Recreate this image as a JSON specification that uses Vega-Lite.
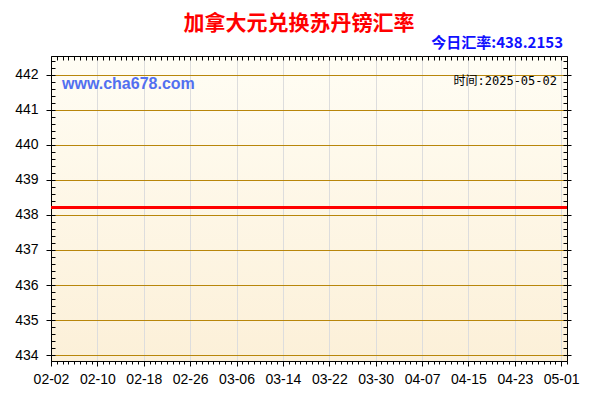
{
  "$schema": "https://vega.github.io/schema/vega-lite/v6.json",
  "description": "加拿大元兑换苏丹镑汇率",
  "width": 516,
  "height": 305,
  "autosize": {"type": "none"},
  "padding": {"left": 51, "top": 56, "right": 33, "bottom": 39},
  "background": "white",
  "title": {
    "text": "加拿大元兑换苏丹镑汇率",
    "color": "#FF0000",
    "font": "Noto Sans CJK SC",
    "fontSize": 21,
    "fontWeight": "bold",
    "anchor": "middle",
    "dx": -10,
    "offset": 2
  },
  "data": {
    "values": [
      {"date": "2025-02-02", "rate": 438.2153}, {"date": "2025-02-03", "rate": 438.2153}, {"date": "2025-02-04", "rate": 438.2153},
      {"date": "2025-02-05", "rate": 438.2153}, {"date": "2025-02-06", "rate": 438.2153}, {"date": "2025-02-07", "rate": 438.2153},
      {"date": "2025-02-08", "rate": 438.2153}, {"date": "2025-02-09", "rate": 438.2153}, {"date": "2025-02-10", "rate": 438.2153},
      {"date": "2025-02-11", "rate": 438.2153}, {"date": "2025-02-12", "rate": 438.2153}, {"date": "2025-02-13", "rate": 438.2153},
      {"date": "2025-02-14", "rate": 438.2153}, {"date": "2025-02-15", "rate": 438.2153}, {"date": "2025-02-16", "rate": 438.2153},
      {"date": "2025-02-17", "rate": 438.2153}, {"date": "2025-02-18", "rate": 438.2153}, {"date": "2025-02-19", "rate": 438.2153},
      {"date": "2025-02-20", "rate": 438.2153}, {"date": "2025-02-21", "rate": 438.2153}, {"date": "2025-02-22", "rate": 438.2153},
      {"date": "2025-02-23", "rate": 438.2153}, {"date": "2025-02-24", "rate": 438.2153}, {"date": "2025-02-25", "rate": 438.2153},
      {"date": "2025-02-26", "rate": 438.2153}, {"date": "2025-02-27", "rate": 438.2153}, {"date": "2025-02-28", "rate": 438.2153},
      {"date": "2025-03-01", "rate": 438.2153}, {"date": "2025-03-02", "rate": 438.2153}, {"date": "2025-03-03", "rate": 438.2153},
      {"date": "2025-03-04", "rate": 438.2153}, {"date": "2025-03-05", "rate": 438.2153}, {"date": "2025-03-06", "rate": 438.2153},
      {"date": "2025-03-07", "rate": 438.2153}, {"date": "2025-03-08", "rate": 438.2153}, {"date": "2025-03-09", "rate": 438.2153},
      {"date": "2025-03-10", "rate": 438.2153}, {"date": "2025-03-11", "rate": 438.2153}, {"date": "2025-03-12", "rate": 438.2153},
      {"date": "2025-03-13", "rate": 438.2153}, {"date": "2025-03-14", "rate": 438.2153}, {"date": "2025-03-15", "rate": 438.2153},
      {"date": "2025-03-16", "rate": 438.2153}, {"date": "2025-03-17", "rate": 438.2153}, {"date": "2025-03-18", "rate": 438.2153},
      {"date": "2025-03-19", "rate": 438.2153}, {"date": "2025-03-20", "rate": 438.2153}, {"date": "2025-03-21", "rate": 438.2153},
      {"date": "2025-03-22", "rate": 438.2153}, {"date": "2025-03-23", "rate": 438.2153}, {"date": "2025-03-24", "rate": 438.2153},
      {"date": "2025-03-25", "rate": 438.2153}, {"date": "2025-03-26", "rate": 438.2153}, {"date": "2025-03-27", "rate": 438.2153},
      {"date": "2025-03-28", "rate": 438.2153}, {"date": "2025-03-29", "rate": 438.2153}, {"date": "2025-03-30", "rate": 438.2153},
      {"date": "2025-03-31", "rate": 438.2153}, {"date": "2025-04-01", "rate": 438.2153}, {"date": "2025-04-02", "rate": 438.2153},
      {"date": "2025-04-03", "rate": 438.2153}, {"date": "2025-04-04", "rate": 438.2153}, {"date": "2025-04-05", "rate": 438.2153},
      {"date": "2025-04-06", "rate": 438.2153}, {"date": "2025-04-07", "rate": 438.2153}, {"date": "2025-04-08", "rate": 438.2153},
      {"date": "2025-04-09", "rate": 438.2153}, {"date": "2025-04-10", "rate": 438.2153}, {"date": "2025-04-11", "rate": 438.2153},
      {"date": "2025-04-12", "rate": 438.2153}, {"date": "2025-04-13", "rate": 438.2153}, {"date": "2025-04-14", "rate": 438.2153},
      {"date": "2025-04-15", "rate": 438.2153}, {"date": "2025-04-16", "rate": 438.2153}, {"date": "2025-04-17", "rate": 438.2153},
      {"date": "2025-04-18", "rate": 438.2153}, {"date": "2025-04-19", "rate": 438.2153}, {"date": "2025-04-20", "rate": 438.2153},
      {"date": "2025-04-21", "rate": 438.2153}, {"date": "2025-04-22", "rate": 438.2153}, {"date": "2025-04-23", "rate": 438.2153},
      {"date": "2025-04-24", "rate": 438.2153}, {"date": "2025-04-25", "rate": 438.2153}, {"date": "2025-04-26", "rate": 438.2153},
      {"date": "2025-04-27", "rate": 438.2153}, {"date": "2025-04-28", "rate": 438.2153}, {"date": "2025-04-29", "rate": 438.2153},
      {"date": "2025-04-30", "rate": 438.2153}, {"date": "2025-05-01", "rate": 438.2153}, {"date": "2025-05-02", "rate": 438.2153}
    ]
  },
  "layer": [
    {
      "mark": {"type": "line", "color": "#FF0000", "strokeWidth": 3},
      "encoding": {
        "x": {
          "field": "date",
          "type": "temporal",
          "scale": {
            "type": "utc",
            "domain": [
              {"year": 2025, "month": 2, "date": 2, "utc": true},
              {"year": 2025, "month": 5, "date": 2, "utc": true}
            ]
          },
          "axis": {
            "orient": "bottom",
            "title": null,
            "format": "%m-%d",
            "values": [
              {"year": 2025, "month": 2, "date": 2, "utc": true},
              {"year": 2025, "month": 2, "date": 10, "utc": true},
              {"year": 2025, "month": 2, "date": 18, "utc": true},
              {"year": 2025, "month": 2, "date": 26, "utc": true},
              {"year": 2025, "month": 3, "date": 6, "utc": true},
              {"year": 2025, "month": 3, "date": 14, "utc": true},
              {"year": 2025, "month": 3, "date": 22, "utc": true},
              {"year": 2025, "month": 3, "date": 30, "utc": true},
              {"year": 2025, "month": 4, "date": 7, "utc": true},
              {"year": 2025, "month": 4, "date": 15, "utc": true},
              {"year": 2025, "month": 4, "date": 23, "utc": true},
              {"year": 2025, "month": 5, "date": 1, "utc": true}
            ],
            "tickSize": 5,
            "labelPadding": 6,
            "labelFlush": false,
            "labelOverlap": false
          }
        },
        "y": {
          "field": "rate",
          "type": "quantitative",
          "scale": {"domain": [433.83, 442.54], "zero": false, "nice": false},
          "axis": {
            "orient": "left",
            "title": null,
            "values": [434, 435, 436, 437, 438, 439, 440, 441, 442],
            "tickSize": 5,
            "labelPadding": 8,
            "grid": true,
            "gridColor": "#B8860B",
            "gridOpacity": 1,
            "labelFlush": false
          }
        }
      }
    },
    {
      "data": {"values": [{}]},
      "mark": {
        "type": "text",
        "text": "www.cha678.com",
        "align": "left",
        "baseline": "middle",
        "dx": 11,
        "font": "Liberation Sans",
        "fontSize": 16,
        "fontWeight": "bold",
        "color": "#5270F0"
      },
      "encoding": {
        "x": {
          "datum": {"year": 2025, "month": 2, "date": 2, "utc": true},
          "type": "temporal",
          "axis": {
            "orient": "bottom",
            "title": null,
            "tickCount": {"interval": "day", "step": 1},
            "labels": false,
            "domain": false,
            "grid": false,
            "tickSize": 3
          }
        },
        "y": {
          "datum": 441.74,
          "type": "quantitative",
          "axis": {
            "orient": "left",
            "title": null,
            "tickCount": 45,
            "labels": false,
            "domain": false,
            "grid": false,
            "tickSize": -4
          }
        }
      }
    },
    {
      "data": {"values": [{}]},
      "mark": {
        "type": "text",
        "text": "时间:2025-05-02",
        "align": "right",
        "baseline": "middle",
        "dx": -10,
        "font": "DejaVu Sans Mono, Noto Sans CJK SC",
        "fontSize": 12,
        "color": "#000000"
      },
      "encoding": {
        "x": {
          "datum": {"year": 2025, "month": 5, "date": 2, "utc": true},
          "type": "temporal",
          "axis": {
            "orient": "top",
            "title": null,
            "tickCount": {"interval": "day", "step": 1},
            "labels": false,
            "domain": false,
            "grid": false,
            "tickSize": -4
          }
        },
        "y": {
          "datum": 441.83,
          "type": "quantitative",
          "axis": {
            "orient": "right",
            "title": null,
            "tickCount": 45,
            "labels": false,
            "domain": false,
            "grid": false,
            "tickSize": -4
          }
        }
      }
    },
    {
      "data": {"values": [{}]},
      "mark": {
        "type": "text",
        "text": "今日汇率:438.2153",
        "align": "right",
        "baseline": "alphabetic",
        "dx": -4,
        "dy": -8,
        "font": "Noto Sans CJK SC",
        "fontSize": 15,
        "fontWeight": "bold",
        "color": "#1010FF"
      },
      "encoding": {
        "x": {
          "datum": {"year": 2025, "month": 5, "date": 2, "utc": true},
          "type": "temporal",
          "axis": null
        },
        "y": {
          "datum": 442.54,
          "type": "quantitative",
          "axis": {
            "orient": "right",
            "title": null,
            "values": [434, 435, 436, 437, 438, 439, 440, 441, 442],
            "labels": false,
            "domain": false,
            "grid": false,
            "tickSize": 4
          }
        }
      }
    }
  ],
  "resolve": {"axis": {"x": "independent", "y": "independent"}},
  "config": {
    "view": {
      "stroke": "#000000",
      "strokeWidth": 1,
      "fill": {
        "gradient": "linear",
        "x1": 0, "y1": 0, "x2": 0, "y2": 1,
        "stops": [
          {"offset": 0, "color": "#FFFDF4"},
          {"offset": 1, "color": "#FCF0D8"}
        ]
      }
    },
    "axis": {
      "labelFont": "Liberation Sans",
      "labelFontSize": 14,
      "labelColor": "#000000",
      "tickColor": "#000000",
      "domainColor": "#000000",
      "tickWidth": 1
    }
  }
}
